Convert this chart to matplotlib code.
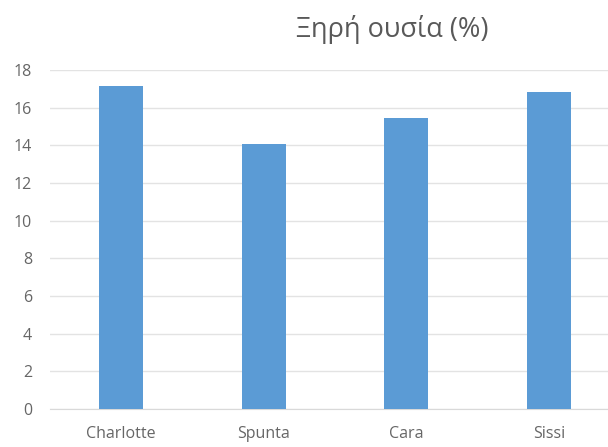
import matplotlib
matplotlib.use("Agg")
import matplotlib.pyplot as plt

categories = ["Charlotte", "Spunta", "Cara", "Sissi"]
values = [17.15, 14.05, 15.45, 16.85]
yticks = [0, 2, 4, 6, 8, 10, 12, 14, 16, 18]
title = "Ξηρή ουσία (%)"

plt.rcParams['font.family'] = ['Open Sans', 'DejaVu Sans']

fig = plt.figure(figsize=(6.08, 4.47), dpi=100)
left, right = 50, 620
ax = fig.add_axes([left/608, 1-409/447, (right-left)/608, (409-70)/447])
ax.bar(range(len(categories)), values, width=0.31, color="#5B9BD5", zorder=3)
ax.set_xlim(-0.5, len(categories)-0.5)
ax.set_ylim(0, 18)
ax.set_yticks(yticks)
ax.set_xticks(range(len(categories)))
ax.set_xticklabels(categories)
ax.yaxis.grid(True, color="#E3E3E3", linewidth=1, zorder=0)
for s in ["top", "right", "left"]:
    ax.spines[s].set_visible(False)
ax.spines["bottom"].set_color("#D9D9D9")
ax.tick_params(axis="both", length=0, labelsize=11.5, colors="#666666")
ax.tick_params(axis="y", pad=13)
ax.tick_params(axis="x", pad=12)
fig.text(392/608, 1-29/447, title, ha="center", va="center", fontsize=19.5, color="#595959")
fig.savefig("out.png", dpi=100)
